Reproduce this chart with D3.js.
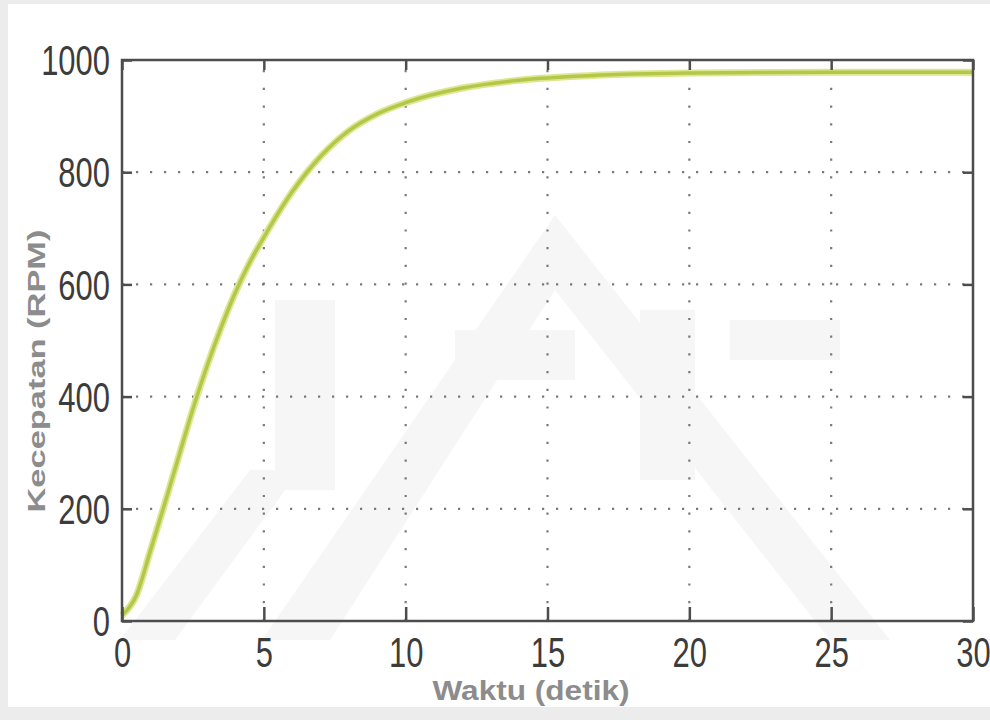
<!DOCTYPE html>
<html>
<head>
<meta charset="utf-8">
<script src="https://cdn.jsdelivr.net/npm/d3@7"></script>
<style>
  body { margin: 0; background: #ececec; }
  svg { display: block; }
</style>
</head>
<body>
<div id="canvas"></div>
<script>
// data
var waktu = [0, 0.5, 1, 1.5, 2, 2.5, 3, 3.5, 4, 4.5, 5, 6, 7, 8, 9, 10, 12, 14, 16, 18, 20, 25, 30];
var kecepatan = [10, 45, 125, 208, 293, 378, 455, 524, 586, 639, 684, 765, 828, 874, 904, 924, 950, 964, 971, 975, 977, 978, 978];
var xTicks = [0, 5, 10, 15, 20, 25, 30];
var yTicks = [0, 200, 400, 600, 800, 1000];

var chartW = 990, chartH = 720;
var plotLeft = 122, plotRight = 973, plotTop = 60, plotBottom = 621;

var svg = d3.select('#canvas').append('svg')
    .attr('width', chartW)
    .attr('height', chartH);

// page background: grey frame, white sheet
svg.append('rect').attr('x', 0).attr('y', 0).attr('width', chartW).attr('height', chartH).attr('fill', '#ececec');
svg.append('rect').attr('x', 8).attr('y', 4).attr('width', chartW - 8).attr('height', 703).attr('fill', '#ffffff');

var x = d3.scaleLinear().domain([0, 30]).range([plotLeft, plotRight]);
var y = d3.scaleLinear().domain([0, 1000]).range([plotBottom, plotTop]);

// faint watermark
var wm = svg.append('g').attr('fill', '#f6f6f6');
wm.append('path').attr('d', 'M262,640 L555,215 L890,640 L830,640 L555,290 L330,640 Z');
wm.append('path').attr('d', 'M120,640 L250,470 L300,470 L175,640 Z');
wm.append('rect').attr('x', 275).attr('y', 300).attr('width', 60).attr('height', 190);
wm.append('rect').attr('x', 455).attr('y', 330).attr('width', 120).attr('height', 50);
wm.append('rect').attr('x', 640).attr('y', 310).attr('width', 55).attr('height', 170);
wm.append('rect').attr('x', 730).attr('y', 320).attr('width', 110).attr('height', 40);

// dotted grid
svg.append('g').selectAll('line')
    .data(xTicks.slice(1, -1))
    .enter().append('line')
    .attr('x1', function (d) { return x(d); })
    .attr('x2', function (d) { return x(d); })
    .attr('y1', plotBottom)
    .attr('y2', plotTop)
    .attr('stroke', '#7a7a7a')
    .attr('stroke-width', 2.2)
    .attr('stroke-dasharray', '2.2,15.5');

svg.append('g').selectAll('line')
    .data(yTicks.slice(1, -1))
    .enter().append('line')
    .attr('x1', plotLeft)
    .attr('x2', plotRight)
    .attr('y1', function (d) { return y(d); })
    .attr('y2', function (d) { return y(d); })
    .attr('stroke', '#7a7a7a')
    .attr('stroke-width', 2.2)
    .attr('stroke-dasharray', '2.2,11.8');

// speed curve
var line = d3.line()
    .x(function (d, i) { return x(waktu[i]); })
    .y(function (d) { return y(d); })
    .curve(d3.curveMonotoneX);

svg.append('path')
    .attr('d', line(kecepatan))
    .attr('fill', 'none')
    .attr('stroke', '#dfe690')
    .attr('stroke-width', 7)
    .attr('stroke-linejoin', 'round');
svg.append('path')
    .attr('d', line(kecepatan))
    .attr('fill', 'none')
    .attr('stroke', '#b2c84a')
    .attr('stroke-width', 3.5)
    .attr('stroke-linejoin', 'round');

// axes (ticks inside, mirrored on top / right)
var axisColor = '#4d4d4d';
function styleAxis(g) {
    g.select('.domain').remove();
    g.selectAll('.tick line').attr('stroke', axisColor).attr('stroke-width', 2.5);
}

var xAxis = svg.append('g')
    .attr('transform', 'translate(0,' + plotBottom + ')')
    .call(d3.axisBottom(x).tickValues(xTicks).tickSize(-14).tickPadding(0).tickFormat(d3.format('d')));
styleAxis(xAxis);
xAxis.selectAll('.tick text')
    .attr('y', 46)
    .attr('dy', null)
    .attr('transform', 'scale(0.72,1)')
    .attr('fill', '#3c3c3c')
    .style('font-family', 'Liberation Sans, Arial, sans-serif')
    .style('font-size', '43px');

var yAxis = svg.append('g')
    .attr('transform', 'translate(' + plotLeft + ',0)')
    .call(d3.axisLeft(y).tickValues(yTicks).tickSize(-10).tickPadding(0).tickFormat(d3.format('d')));
styleAxis(yAxis);
yAxis.selectAll('.tick text')
    .attr('x', -12 / 0.72)
    .attr('dy', '0.34em')
    .attr('transform', 'scale(0.72,1)')
    .attr('fill', '#3c3c3c')
    .style('font-family', 'Liberation Sans, Arial, sans-serif')
    .style('font-size', '43px');

var topAxis = svg.append('g')
    .attr('transform', 'translate(0,' + plotTop + ')')
    .call(d3.axisTop(x).tickValues(xTicks).tickSize(-10).tickFormat(''));
styleAxis(topAxis);

var rightAxis = svg.append('g')
    .attr('transform', 'translate(' + plotRight + ',0)')
    .call(d3.axisRight(y).tickValues(yTicks).tickSize(-10).tickFormat(''));
styleAxis(rightAxis);

svg.append('rect')
    .attr('x', plotLeft).attr('y', plotTop)
    .attr('width', plotRight - plotLeft).attr('height', plotBottom - plotTop)
    .attr('fill', 'none')
    .attr('stroke', axisColor)
    .attr('stroke-width', 2.5);

// axis titles
svg.append('text')
    .attr('x', 531)
    .attr('y', 700)
    .attr('text-anchor', 'middle')
    .attr('textLength', 197)
    .attr('lengthAdjust', 'spacingAndGlyphs')
    .attr('fill', '#8c8c8c')
    .style('font-family', 'Liberation Sans, Arial, sans-serif')
    .style('font-weight', 'bold')
    .style('font-size', '28px')
    .text('Waktu (detik)');

svg.append('text')
    .attr('transform', 'translate(45,371) rotate(-90)')
    .attr('text-anchor', 'middle')
    .attr('textLength', 283)
    .attr('lengthAdjust', 'spacingAndGlyphs')
    .attr('fill', '#8c8c8c')
    .style('font-family', 'Liberation Sans, Arial, sans-serif')
    .style('font-weight', 'bold')
    .style('font-size', '23px')
    .text('Kecepatan (RPM)');
</script>
</body>
</html>
